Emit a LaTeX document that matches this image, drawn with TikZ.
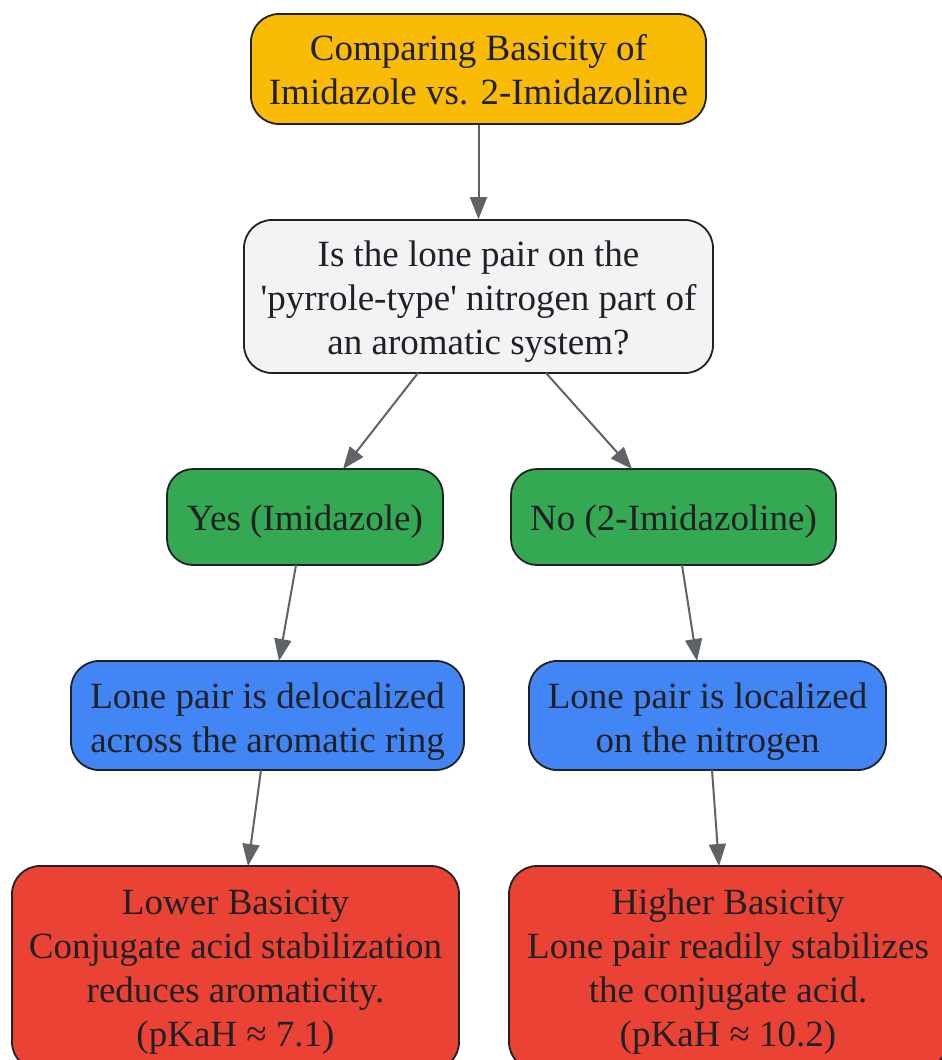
\documentclass[tikz,border=0pt]{standalone}
\usepackage{fontspec}
\setmainfont{Liberation Serif}
\usetikzlibrary{arrows.meta}
\definecolor{cyellow}{HTML}{F9BB06}
\definecolor{cgrey}{HTML}{F1F3F4}
\definecolor{cgreen}{HTML}{34A853}
\definecolor{cblue}{HTML}{4285F4}
\definecolor{cred}{HTML}{EA4335}
\definecolor{cedge}{HTML}{5F6368}
\definecolor{ctext}{HTML}{202124}
\tikzset{
  box/.style={draw=ctext, line width=1.8pt, rounded corners=28pt, inner sep=0pt},
  txt/.style={inner sep=0pt, align=center, text=ctext, font=\fontsize{37pt}{44pt}\selectfont},
  conn/.style={draw=cedge, line width=2pt, -{Triangle[length=22pt,width=17pt]}},
}
\begin{document}
\begin{tikzpicture}[x=1pt,y=-1pt]
\useasboundingbox (0,0) rectangle (942,1060);
\node[box, fill=cyellow, minimum width=455pt, minimum height=110pt] (top) at (478.5,69) {};
\node[txt] (topt) at ([yshift=-1pt]top.center) {Comparing Basicity of\\Imidazole vs. 2-Imidazoline};
\node[box, fill=cgrey, minimum width=469pt, minimum height=153pt] (q) at (478.5,296.5) {};
\node[txt] (qt) at ([yshift=-5pt]q.center) {Is the lone pair on the\\\textquotesingle pyrrole-type\textquotesingle{} nitrogen part of\\an aromatic system?};
\node[box, fill=cgreen, rounded corners=26pt, minimum width=276pt, minimum height=96pt] (yes) at (305,517) {};
\node[txt] (yest) at ([yshift=-5pt]yes.center) {Yes (Imidazole)};
\node[box, fill=cgreen, rounded corners=26pt, minimum width=325pt, minimum height=96pt] (no) at (673.5,517) {};
\node[txt] (not) at ([yshift=-5pt]no.center) {No (2-Imidazoline)};
\node[box, fill=cblue, minimum width=393pt, minimum height=109pt] (bl) at (267.5,715.5) {};
\node[txt] (blt) at ([yshift=-6pt]bl.center) {Lone pair is delocalized\\across the aromatic ring};
\node[box, fill=cblue, minimum width=357pt, minimum height=109pt] (br) at (707.5,715.5) {};
\node[txt] (brt) at ([yshift=-6pt]br.center) {Lone pair is localized\\on the nitrogen};
\node[box, fill=cred, minimum width=447pt, minimum height=204pt] (rl) at (235.5,968) {};
\node[txt] (rlt) at ([yshift=-4pt]rl.center) {Lower Basicity\\Conjugate acid stabilization\\reduces aromaticity.\\(pKaH ≈ 7.1)};
\node[box, fill=cred, minimum width=438pt, minimum height=204pt] (rr) at (728,968) {};
\node[txt] (rrt) at ([yshift=-4pt]rr.center) {Higher Basicity\\Lone pair readily stabilizes\\the conjugate acid.\\(pKaH ≈ 10.2)};
\draw[conn] (top.south) -- (q.north);
\coordinate (qa) at (418,373); \coordinate (qb) at (546,373);
\coordinate (ya) at (343,469); \coordinate (na) at (632,469);
\draw[conn] (qa) -- (ya);
\draw[conn] (qb) -- (na);
\coordinate (ys) at (296,565); \coordinate (bln) at (279,661);
\coordinate (ns) at (682,565); \coordinate (brn) at (697,661);
\draw[conn] (ys) -- (bln);
\draw[conn] (ns) -- (brn);
\coordinate (bls) at (261,770); \coordinate (rln) at (248,866);
\coordinate (brs) at (712,770); \coordinate (rrn) at (719,866);
\draw[conn] (bls) -- (rln);
\draw[conn] (brs) -- (rrn);
\end{tikzpicture}
\end{document}
